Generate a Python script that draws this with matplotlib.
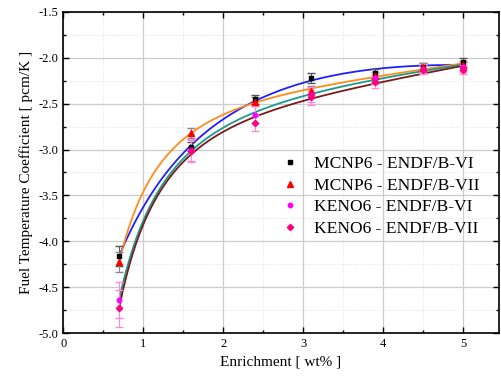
import numpy as np
import matplotlib
matplotlib.use("Agg")
import matplotlib.pyplot as plt
from matplotlib.ticker import MultipleLocator
from matplotlib.lines import Line2D

plt.rcParams["font.family"] = ["Liberation Serif", "DejaVu Serif"]
plt.rcParams["axes.unicode_minus"] = False

enrich = [0.7, 1.6, 2.4, 3.1, 3.9, 4.5, 5.0]
mcnp_vi = [-4.16, -2.97, -2.45, -2.22, -2.17, -2.10, -2.05]
mcnp_vii = [-4.23, -2.82, -2.48, -2.36, -2.20, -2.10, -2.08]
keno_vi = [-4.64, -3.00, -2.62, -2.40, -2.22, -2.12, -2.10]
keno_vii = [-4.73, -3.02, -2.71, -2.43, -2.26, -2.13, -2.13]
err_mcnp = [0.11, 0.05, 0.05, 0.05, 0.05, 0.04, 0.05]
err_keno = [0.20, 0.12, 0.09, 0.08, 0.07, 0.05, 0.05]

labels = ["MCNP6 - ENDF/B-VI", "MCNP6 - ENDF/B-VII",
          "KENO6 - ENDF/B-VI", "KENO6 - ENDF/B-VII"]


def smoothfit(x, y, deg=3):
    # least squares polynomial in log(x)
    lx = np.log(np.asarray(x))
    p = np.polyfit(lx, y, deg)
    xs = np.linspace(min(x), max(x), 200)
    return xs, np.polyval(p, np.log(xs))


fig = plt.figure(figsize=(5.01, 3.85), dpi=100)
ax = fig.add_axes([0.126, 0.135, 0.87, 0.834])

fits = [(mcnp_vi, "#2020ff"), (mcnp_vii, "#ff8c1a"),
        (keno_vi, "#1a9a8a"), (keno_vii, "#7a1a1a")]
for ys, c in fits:
    xs, yf = smoothfit(enrich, ys)
    ax.plot(xs, yf, color=c, lw=1.3, zorder=2)

ax.errorbar(enrich, mcnp_vi, yerr=err_mcnp, fmt="s", color="black", ms=3,
            ecolor="#555555", elinewidth=0.8, capsize=3, zorder=4)
ax.errorbar(enrich, mcnp_vii, yerr=err_mcnp, fmt="^", color="red", ms=4,
            ecolor="#888888", elinewidth=0.8, capsize=3, zorder=4)
ax.errorbar(enrich, keno_vi, yerr=err_keno, fmt="o", color="#ff00ff", ms=3.2,
            ecolor="#ff88dd", elinewidth=0.8, capsize=3, zorder=4)
ax.errorbar(enrich, keno_vii, yerr=err_keno, fmt="D", color="#ff0080", ms=3.2,
            ecolor="#ff88cc", elinewidth=0.8, capsize=3, zorder=4)

ax.set_xlim(0, 5.45)
ax.set_ylim(-5.0, -1.5)
ax.xaxis.set_major_locator(MultipleLocator(1))
ax.xaxis.set_minor_locator(MultipleLocator(0.5))
ax.yaxis.set_minor_locator(MultipleLocator(0.25))
ax.set_yticks(np.arange(-5.0, -1.49, 0.5))
ax.set_yticklabels(["%.1f" % v for v in np.arange(-5.0, -1.49, 0.5)])
ax.tick_params(which="both", direction="in", top=True, right=True, labelsize=9)
ax.tick_params(which="major", length=4, width=1)
ax.tick_params(which="minor", length=2.5, width=1)
ax.grid(which="major", color="#cccccc", lw=0.9)
ax.grid(which="minor", color="#dddddd", lw=0.6, ls=":")
for s in ax.spines.values():
    s.set_linewidth(1.2)

ax.set_xlabel("Enrichment [ wt% ]", fontsize=11)
ax.set_ylabel("Fuel Temperature Coefficient [ pcm/K ]", fontsize=11)

handles = [
    Line2D([], [], ls="", marker="s", color="black", ms=3),
    Line2D([], [], ls="", marker="^", color="red", ms=4),
    Line2D([], [], ls="", marker="o", color="#ff00ff", ms=3.2),
    Line2D([], [], ls="", marker="D", color="#ff0080", ms=3.2),
]
ax.legend(handles, labels, loc="center left", bbox_to_anchor=(0.48, 0.425),
          frameon=False, fontsize=12.6, handletextpad=0.9, labelspacing=0.3,
          handlelength=1.0, borderpad=0)

fig.savefig("out.png", dpi=100)
